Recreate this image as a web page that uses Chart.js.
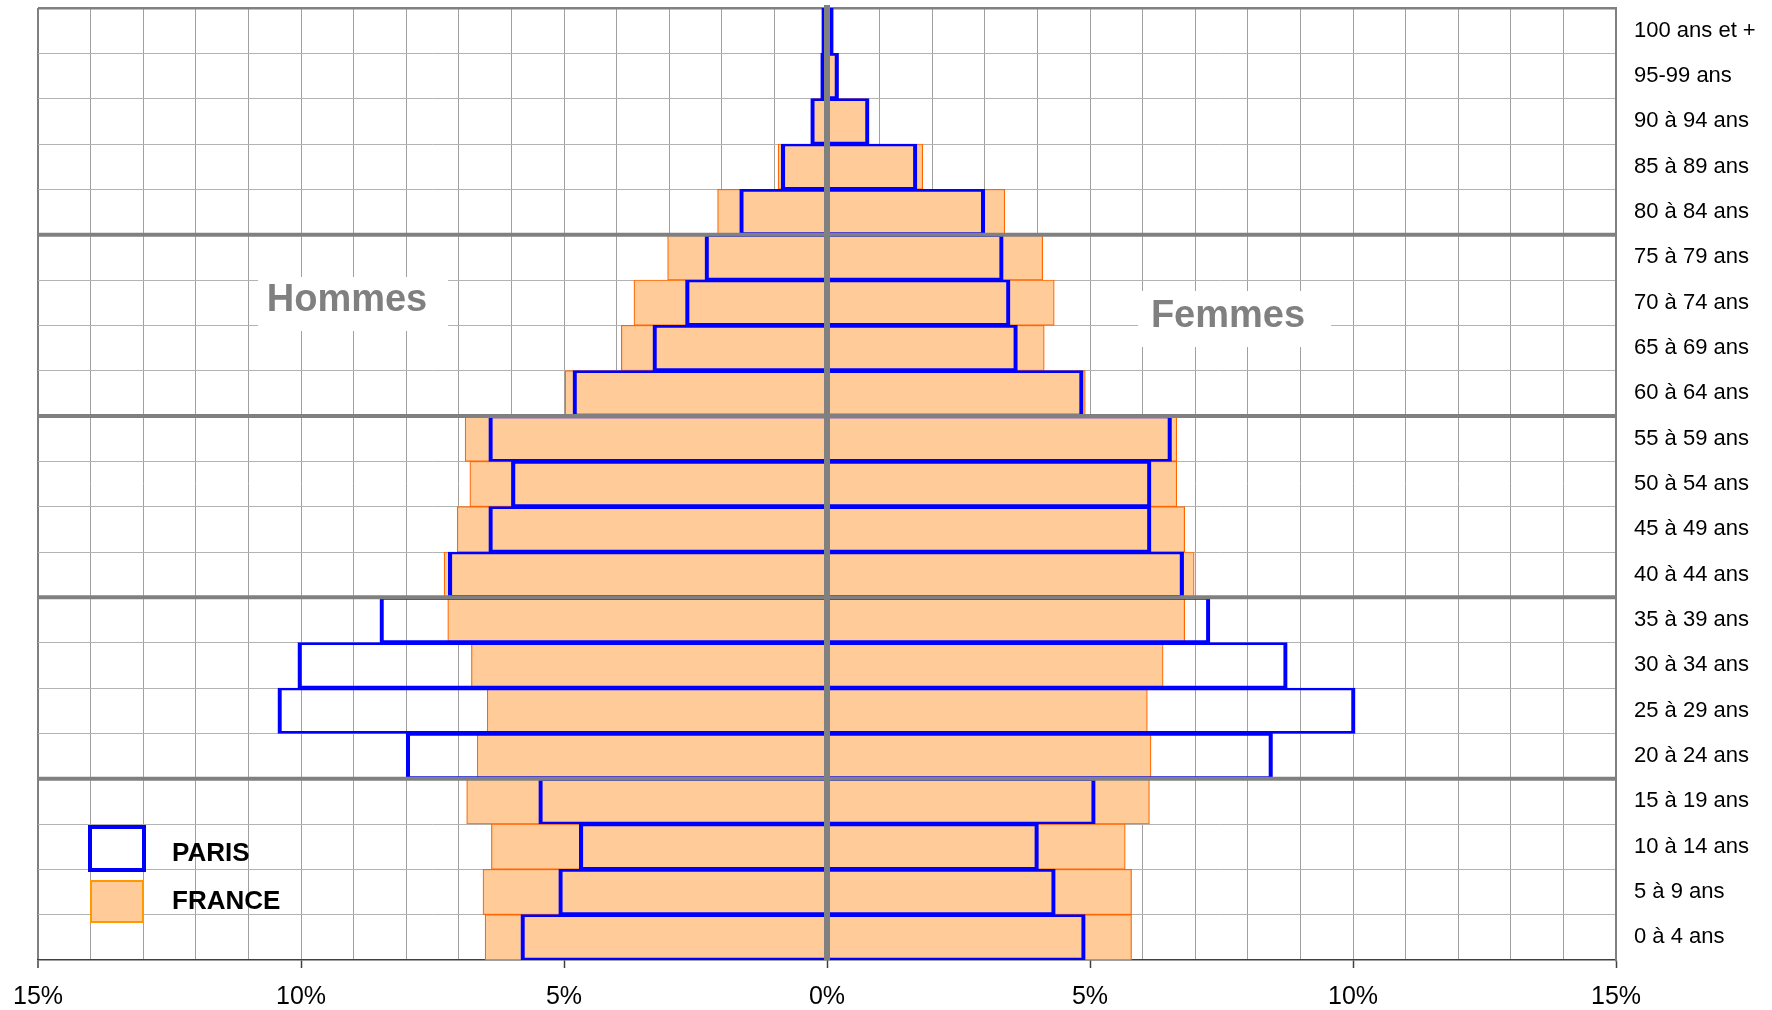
<!DOCTYPE html>
<html lang="fr">
<head>
<meta charset="UTF-8">
<title>Pyramide des âges Paris / France</title>
<script src="https://cdn.jsdelivr.net/npm/chart.js"></script>
<style>
  html, body { margin: 0; padding: 0; background: #fff; }
  #wrap { width: 1772px; height: 1010px; }
</style>
</head>
<body>
<div id="wrap"><canvas id="pyramide"></canvas></div>
<script>
// Tranches d'âge, du haut vers le bas
const ages = ['100 ans et +', '95-99 ans', '90 à 94 ans', '85 à 89 ans', '80 à 84 ans',
  '75 à 79 ans', '70 à 74 ans', '65 à 69 ans', '60 à 64 ans', '55 à 59 ans',
  '50 à 54 ans', '45 à 49 ans', '40 à 44 ans', '35 à 39 ans', '30 à 34 ans',
  '25 à 29 ans', '20 à 24 ans', '15 à 19 ans', '10 à 14 ans', '5 à 9 ans', '0 à 4 ans'];

// Part de chaque tranche (%)
const parisHommes  = [0.10, 0.12, 0.31, 0.87, 1.66, 2.32, 2.69, 3.31, 4.83, 6.43, 6.00,
  6.43, 7.20, 8.50, 10.06, 10.44, 8.00, 5.48, 4.71, 5.10, 5.82];
const parisFemmes  = [0.12, 0.22, 0.80, 1.71, 3.00, 3.35, 3.48, 3.62, 4.87, 6.55, 6.16,
  6.16, 6.78, 7.28, 8.75, 10.04, 8.47, 5.10, 4.02, 4.34, 4.91];
const franceHommes = [0.03, 0.06, 0.27, 0.93, 2.08, 3.03, 3.67, 3.91, 4.98, 6.88, 6.79,
  7.03, 7.28, 7.21, 6.76, 6.46, 6.65, 6.85, 6.38, 6.54, 6.50];
const franceFemmes = [0.05, 0.17, 0.76, 1.82, 3.38, 4.10, 4.32, 4.13, 4.91, 6.65, 6.65,
  6.80, 6.98, 6.80, 6.39, 6.09, 6.16, 6.13, 5.67, 5.79, 5.79];

// Séparations épaisses (entre deux tranches)
const separations = [5, 9, 13, 17];

const xMin = -15, xMax = 15;

const police = "'Liberation Sans', Arial, sans-serif";

// Hommes à gauche (négatif), femmes à droite
function barres(hommes, femmes) {
  return hommes.map((h, i) => [-h, femmes[i]]);
}

// Annotations : lignes épaisses, axe central, légende, libellés
const decor = {
  id: 'decor',
  afterDatasetsDraw(chart) {
    const { ctx, chartArea: a, scales: { x, y } } = chart;
    ctx.save();

    // lignes horizontales épaisses
    ctx.strokeStyle = '#808080';
    ctx.lineWidth = 4;
    separations.forEach(i => {
      const py = (y.getPixelForValue(i - 1) + y.getPixelForValue(i)) / 2;
      ctx.beginPath();
      ctx.moveTo(a.left, py);
      ctx.lineTo(a.right, py);
      ctx.stroke();
    });

    // axe vertical 0 %
    const x0 = x.getPixelForValue(0);
    ctx.lineWidth = 6;
    ctx.beginPath();
    ctx.moveTo(x0, a.top - 3);
    ctx.lineTo(x0, a.bottom);
    ctx.stroke();

    // Hommes / Femmes
    ctx.fillStyle = '#fff';
    ctx.fillRect(a.left + 220, a.top + 269, 190, 54);
    ctx.fillRect(a.left + 1100, a.top + 283, 193, 56);
    ctx.fillStyle = '#808080';
    ctx.font = 'bold 38px ' + police;
    ctx.textAlign = 'center';
    ctx.textBaseline = 'middle';
    ctx.fillText('Hommes', a.left + 309, a.top + 293);
    ctx.fillText('Femmes', a.left + 1190, a.top + 309);

    // légende
    const paris = chart.data.datasets[0];
    const france = chart.data.datasets[1];
    ctx.fillStyle = '#fff';
    ctx.fillRect(a.left + 52, a.bottom - 133, 54, 43);
    ctx.strokeStyle = paris.borderColor;
    ctx.lineWidth = 4;
    ctx.strokeRect(a.left + 52, a.bottom - 133, 54, 43);
    ctx.fillStyle = france.backgroundColor;
    ctx.fillRect(a.left + 53, a.bottom - 79, 52, 41);
    ctx.strokeStyle = '#FF9900';
    ctx.lineWidth = 2;
    ctx.strokeRect(a.left + 53, a.bottom - 79, 52, 41);

    ctx.fillStyle = '#000';
    ctx.font = 'bold 26px ' + police;
    ctx.textAlign = 'left';
    ctx.fillText(paris.label, a.left + 134, a.bottom - 106);
    ctx.fillText(france.label, a.left + 134, a.bottom - 58);

    ctx.restore();
  }
};

const ctx = document.getElementById('pyramide').getContext('2d');
new Chart(ctx, {
  type: 'bar',
  data: {
    labels: ages,
    datasets: [
      {
        label: 'PARIS',
        data: barres(parisHommes, parisFemmes),
        backgroundColor: 'rgba(0,0,0,0)',
        borderColor: '#0000FF',
        borderWidth: { top: 2, bottom: 2, left: 3.5, right: 3.5 },
        borderSkipped: false,
        order: 0
      },
      {
        label: 'FRANCE',
        data: barres(franceHommes, franceFemmes),
        backgroundColor: '#FFCC99',
        borderColor: '#FF6600',
        borderWidth: 1.2,
        borderSkipped: false,
        order: 1
      }
    ]
  },
  options: {
    indexAxis: 'y',
    responsive: true,
    maintainAspectRatio: false,
    animation: false,
    grouped: false,
    barPercentage: 1,
    categoryPercentage: 1,
    layout: { autoPadding: false, padding: { left: 38, top: 8, right: 0, bottom: 0 } },
    plugins: {
      legend: { display: false },
      tooltip: { enabled: false }
    },
    scales: {
      x: {
        type: 'linear',
        min: xMin,
        max: xMax,
        afterFit: s => { s.height = 50; s.paddingLeft = 0; s.paddingRight = 0; },
        ticks: {
          stepSize: 1,
          autoSkip: false,
          maxRotation: 0,
          padding: 14,
          color: '#000',
          font: { family: police, size: 25 },
          callback: v => (v % 5 === 0 ? Math.abs(v) + '%' : '')
        },
        grid: {
          color: c => (c.tick && c.tick.value === xMin ? '#808080' : '#a0a0a0'),
          lineWidth: c => (c.tick && c.tick.value === xMin ? 2 : 1),
          tickColor: c => (c.tick && c.tick.value % 5 === 0 ? '#404040' : 'rgba(0,0,0,0)'),
          tickLength: 8,
          tickWidth: 1.5
        },
        border: { color: '#404040', width: 1.5 }
      },
      y: {
        type: 'category',
        position: 'right',
        offset: true,
        afterFit: s => { s.width = 156; s.paddingTop = 0; s.paddingBottom = 0; },
        ticks: {
          padding: 18,
          color: '#000',
          font: { family: police, size: 22 }
        },
        grid: {
          offset: true,
          drawTicks: false,
          color: c => (c.index === 0 ? '#808080' : (c.index === undefined ? 'rgba(0,0,0,0)' : '#b3b3b3')),
          lineWidth: c => (c.index === 0 ? 2.5 : 1)
        },
        border: { color: '#808080', width: 2 }
      }
    }
  },
  plugins: [decor]
});
</script>
</body>
</html>
